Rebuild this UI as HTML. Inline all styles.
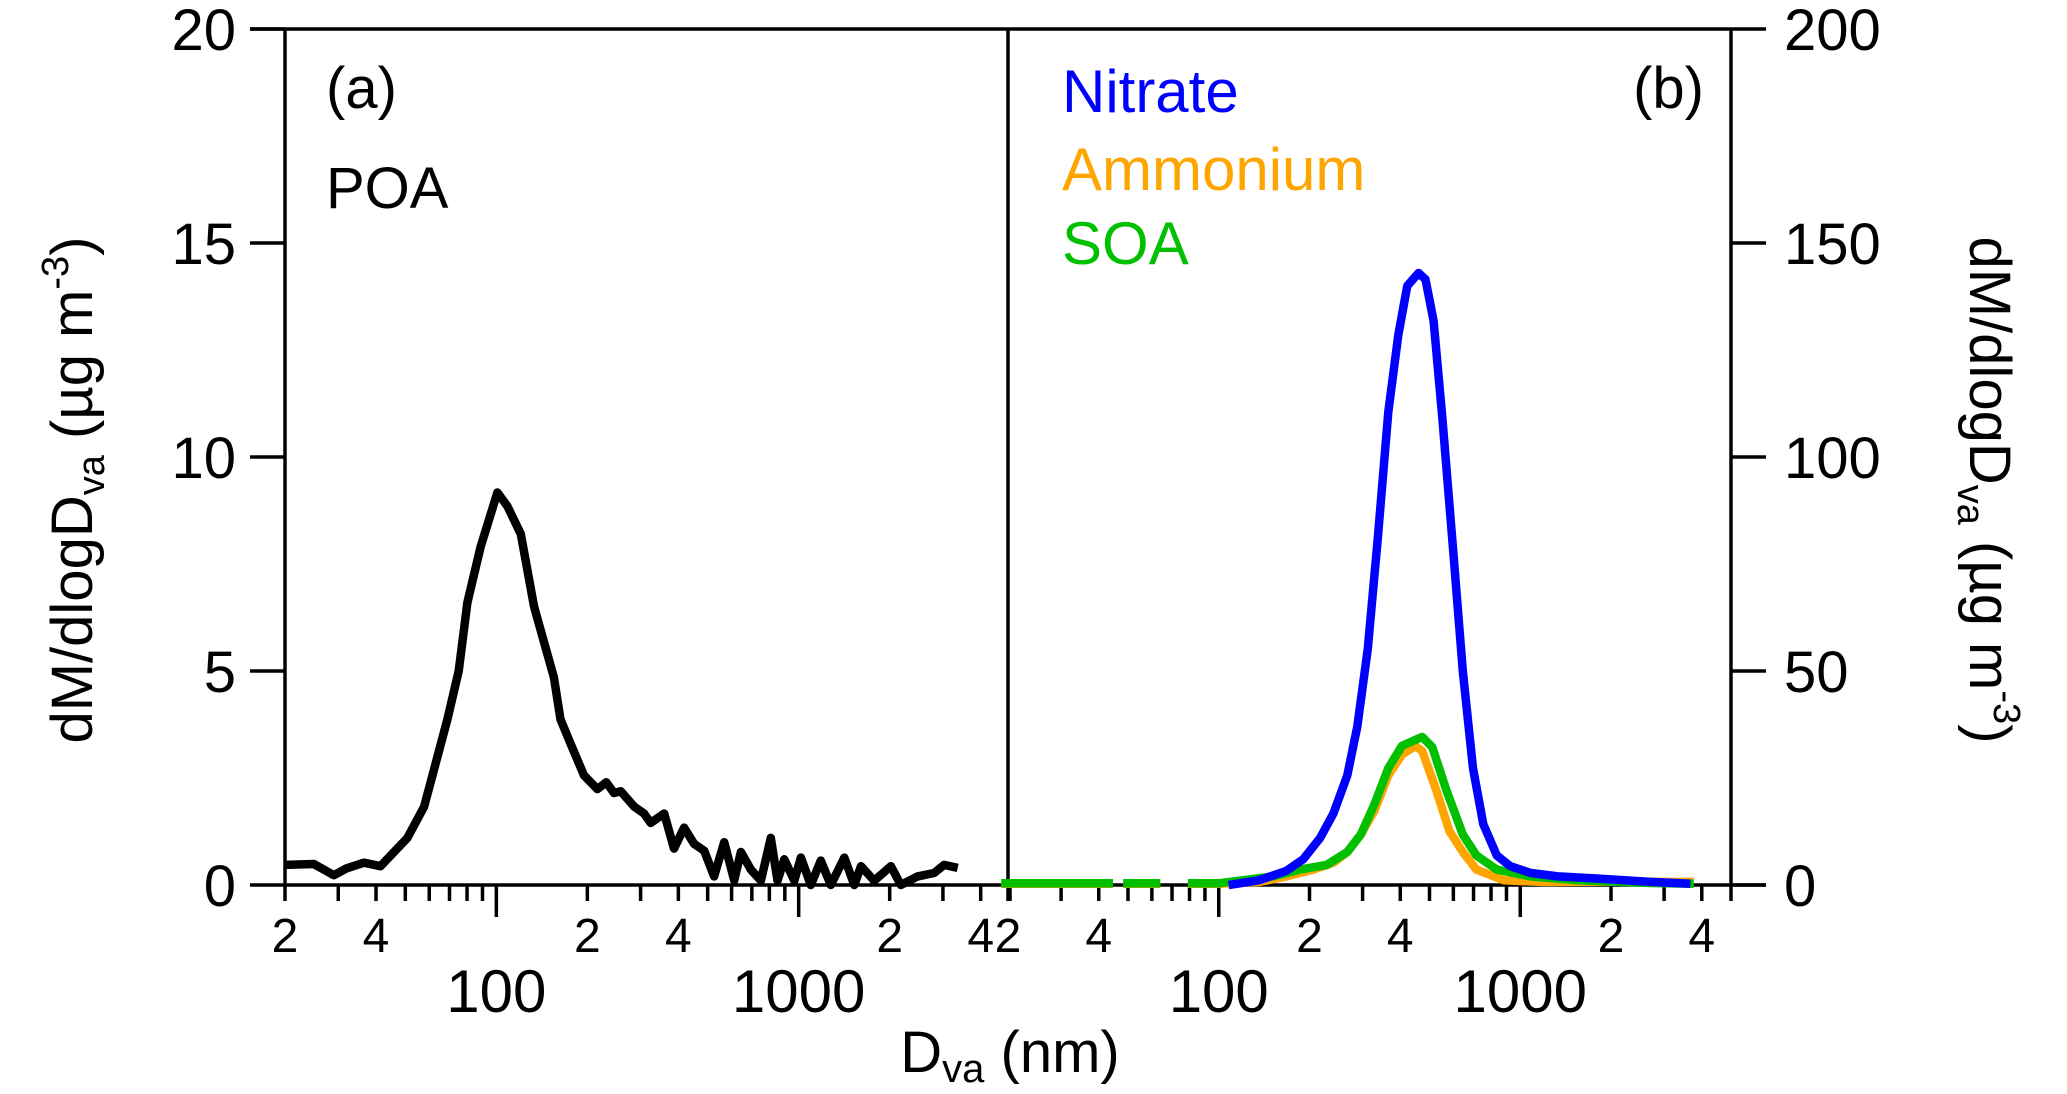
<!DOCTYPE html>
<html><head><meta charset="utf-8"><style>
body{margin:0;background:#fff}
svg{display:block;font-family:"Liberation Sans",Arial,sans-serif}
</style></head><body>
<svg id="chart" width="2067" height="1094" viewBox="0 0 2067 1094">
<g id="axes"></g>
<g id="series"></g>
<text x="326" y="108" font-size="58">(a)</text>
<text x="326" y="208" font-size="58">POA</text>
<text x="1704" y="108" font-size="58" text-anchor="end">(b)</text>
<text x="1062" y="112" font-size="60" fill="#0000ff">Nitrate</text>
<text x="1062" y="190" font-size="60" fill="#ffa500">Ammonium</text>
<text x="1062" y="264" font-size="60" fill="#00c000">SOA</text>
<text x="1010" y="1072" font-size="58" text-anchor="middle">D<tspan font-size="40" dy="10">va</tspan><tspan dy="-10"> (nm)</tspan></text>
<text transform="translate(92,490) rotate(-90)" font-size="58" text-anchor="middle">dM/dlogD<tspan font-size="38" dy="12">va</tspan><tspan dy="-12"> (µg m</tspan><tspan font-size="38" dy="-24">-3</tspan><tspan dy="24">)</tspan></text>
<text transform="translate(1970,490) rotate(90)" font-size="58" text-anchor="middle">dM/dlogD<tspan font-size="38" dy="12">va</tspan><tspan dy="-12"> (µg m</tspan><tspan font-size="38" dy="-24">-3</tspan><tspan dy="24">)</tspan></text>
</svg>
<script>
const yTicksLeft=[0,5,10,15,20];
const yTicksRight=[0,50,100,150,200];
const xMinorLabels=[20,40,200,400,2000,4000];
const xMajorLabels=[100,1000];
const poaD=[20,24.9,29,32,36.5,41.4,50.8,57.7,68.9,75.1,80.2,88.7,100.8,108.8,120.5,133.3,155,163,176,195,216,231,245,258,286,308,324,359,387,418,451,487,525,567,612,644,695,750,809,851,896,967,1017,1097,1184,1277,1416,1528,1607,1778,2018,2178,2473,2806,3028,3357];
const poaV=[0.47,0.49,0.23,0.39,0.52,0.44,1.1,1.83,3.87,5.0,6.6,7.9,9.17,8.85,8.2,6.5,4.85,3.87,3.3,2.56,2.24,2.4,2.15,2.19,1.83,1.67,1.45,1.67,0.85,1.34,0.96,0.8,0.2,1.0,0.11,0.77,0.36,0.1,1.1,0.1,0.6,0.1,0.64,0,0.57,0,0.64,0,0.44,0.1,0.44,0,0.2,0.28,0.47,0.4];
const nitD=[107.8,136,167.5,190.6,217,240,267,288,312,337,365,394,422,460,485,516,552,597,645,697,754,836,927,1084,1334,1820,2618,3667];
const nitV=[0,1.1,3.3,6,11,16.7,25.6,37,55,81,110.5,128.5,140,143,141.5,131.8,109,79.5,50,27.3,14.2,6.9,4.4,2.8,2,1.5,0.8,0.3];
const ammD=[19,44.6,null,48.2,64,null,79,99.7,136,167.5,206,240,267,296,329,365,405,449,473,525,582,645,716,881,1202,2018,3760];
const ammV=[0.3,0.3,null,0.3,0.3,null,0.3,0.3,0.7,2,3.6,5.2,7.7,11.8,17.5,25.6,30.5,32.5,31.3,22.4,12.6,7.7,3.6,1.1,0.7,0.8,0.7];
const soaD=[19,44.6,null,48.2,64,null,79,99.7,151,186,228,267,296,329,365,405,473,511,567,645,716,836,1084,1557,2618,3760];
const soaV=[0.4,0.4,null,0.4,0.4,null,0.4,0.4,2,3.6,4.7,7.7,11.8,19,27.3,32.5,34.6,32.2,22.4,11.8,6.9,3.6,2,1.1,0.5,0.3];

const NS="http://www.w3.org/2000/svg";
const Y0=885,YT=29;
const xMin=20,xMax=5000;
function xL(d){return 285+(Math.log10(d)-Math.log10(xMin))/(Math.log10(xMax)-Math.log10(xMin))*725;}
function xR(d){return 1008+(Math.log10(d)-Math.log10(xMin))/(Math.log10(xMax)-Math.log10(xMin))*723;}
function yL(v){return Y0-v/20*(Y0-YT);}
function yR(v){return Y0-v/200*(Y0-YT);}
const axes=document.getElementById('axes'),series=document.getElementById('series');
function el(tag,attrs,parent,txt){const e=document.createElementNS(NS,tag);for(const k in attrs)e.setAttribute(k,attrs[k]);if(txt!==undefined)e.textContent=txt;parent.appendChild(e);return e;}
let f=el('path',{d:`M250 ${YT} H1731 M285 ${YT} V${Y0} M1008 ${YT} V${Y0} M1731 ${YT} V${Y0} M285 ${Y0} H1766`,stroke:'#000','stroke-width':3.5,fill:'none'},axes);


yTicksLeft.forEach(v=>{
 const t=el('line',{x1:250,x2:285,y1:yL(v),y2:yL(v),stroke:'#000','stroke-width':3.5},axes);
 
 
 const l=el('text',{x:236,y:yL(v)+21,'font-size':58,'text-anchor':'end'},axes,v);
 
 
});
yTicksRight.forEach(v=>{
 const t=el('line',{x1:1731,x2:1766,y1:yR(v),y2:yR(v),stroke:'#000','stroke-width':3.5},axes);
 
 
 const l=el('text',{x:1784,y:yR(v)+21,'font-size':58},axes,v);
 
 
});
[xL,xR].forEach((xf,pi)=>{
 for(let dec=10;dec<=1000;dec*=10){for(let m=1;m<10;m++){const d=dec*m;if(d<xMin||d>xMax)continue;
  const major=(m===1);
  const t=el('line',{x1:xf(d),x2:xf(d),y1:Y0,y2:Y0+(major?32:16),stroke:'#000','stroke-width':3.5},axes);
  
  
 }}
 xMinorLabels.forEach(d=>{const l=el('text',{x:xf(d),y:952,'font-size':48,'text-anchor':'middle'},axes,String(d).charAt(0));
  
  });
 xMajorLabels.forEach(d=>{const l=el('text',{x:xf(d),y:1012,'font-size':60,'text-anchor':'middle'},axes,d);
  
  });
});
function line(D,V,xf,yf,color,name){
 let d='',pen=false;
 for(let i=0;i<D.length;i++){if(D[i]===null){pen=false;continue;}d+=(pen?'L':'M')+xf(D[i]).toFixed(1)+' '+yf(V[i]).toFixed(1)+' ';pen=true;}
 const p=el('path',{d:d,stroke:color,'stroke-width':8.5,fill:'none','stroke-linejoin':'round'},series);
 
 
}
line(poaD,poaV,xL,yL,'#000','poa-line');
line(ammD,ammV,xR,yR,'#ffa500','ammonium-line');
line(soaD,soaV,xR,yR,'#00c000','soa-line');
line(nitD,nitV,xR,yR,'#0000ff','nitrate-line');
</script>
</body></html>
